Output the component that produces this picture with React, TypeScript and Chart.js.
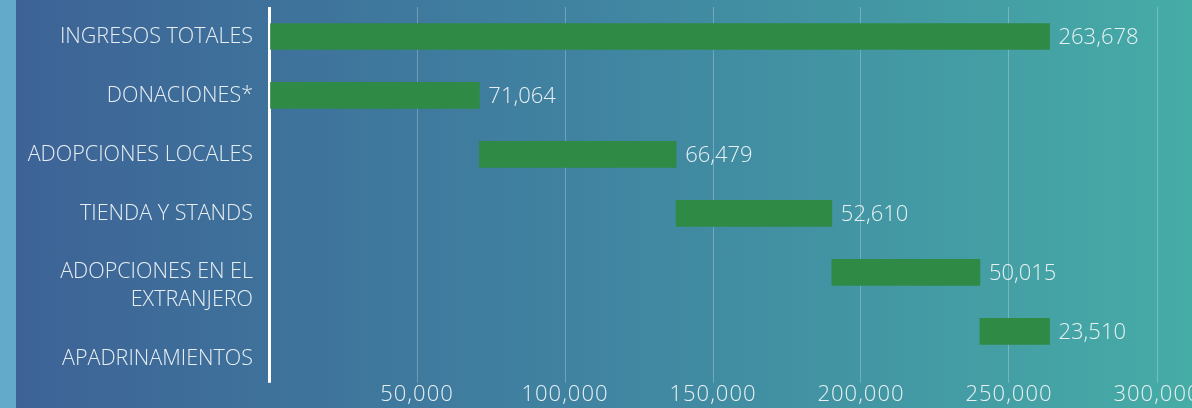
import React, { useEffect, useRef } from "react";
import { Chart, registerables } from "chart.js";

Chart.register(...registerables);

const categories: (string | string[])[] = [
  "INGRESOS TOTALES",
  "DONACIONES*",
  "ADOPCIONES LOCALES",
  "TIENDA Y STANDS",
  ["", "ADOPCIONES EN EL", "EXTRANJERO"],
  ["", "", "APADRINAMIENTOS"],
];
const barStarts = [0, 0, 71064, 137543, 190153, 240168];
const barValues = [263678, 71064, 66479, 52610, 50015, 23510];
const xTickValues = [0, 50000, 100000, 150000, 200000, 250000, 300000];
const xMin = 0;
const xMax = 310000;

const FONT = "'Open Sans', 'DejaVu Sans', sans-serif";
const TEXT = "rgba(240,246,248,0.95)";

const fmt = (v: number) => v.toLocaleString("en-US");

const valueLabels = {
  id: "valueLabels",
  afterDatasetsDraw(chart: any) {
    const { ctx } = chart;
    const meta = chart.getDatasetMeta(0);
    ctx.save();
    ctx.font = `300 22px ${FONT}`;
    ctx.fillStyle = TEXT;
    ctx.textAlign = "left";
    ctx.textBaseline = "middle";
    meta.data.forEach((bar: any, i: number) => {
      const p = bar.getProps(["x", "y"], true);
      ctx.fillText(fmt(barValues[i]), p.x + 9, p.y + 1);
    });
    ctx.restore();
  },
};

export default function App() {
  const ref = useRef<HTMLCanvasElement>(null);
  useEffect(() => {
    if (!ref.current) return;
    const chart = new Chart(ref.current, {
      type: "bar",
      data: {
        labels: categories as any,
        datasets: [
          {
            data: barValues.map((v, i) => [barStarts[i], barStarts[i] + v]) as any,
            backgroundColor: "#2f8a45",
            borderWidth: 0,
            barThickness: 26,
          },
        ],
      },
      options: {
        indexAxis: "y",
        responsive: false,
        animation: false,
        devicePixelRatio: 1,
        layout: { padding: { top: 7, left: 0, right: 1230 - 1186.6, bottom: 1 } },
        plugins: { legend: { display: false }, tooltip: { enabled: false } },
        scales: {
          x: {
            type: "linear",
            min: xMin,
            max: xMax,
            afterBuildTicks: (scale: any) => {
              scale.ticks = xTickValues.map((v) => ({ value: v }));
              if (!scale._lsPatched) {
                scale._lsPatched = true;
                const orig = scale.draw;
                scale.draw = function (area: any) {
                  const c = this.ctx;
                  c.save();
                  c.letterSpacing = "1px";
                  orig.call(this, area);
                  c.restore();
                };
              }
            },
            border: { display: false },
            grid: {
              drawTicks: true,
              tickLength: 22,
              color: (c: any) => (c.tick && c.tick.value === 0 ? "#ffffff" : "rgba(255,255,255,0.25)"),
              tickColor: (c: any) => (c.tick && c.tick.value === 0 ? "#ffffff" : "rgba(255,255,255,0.25)"),
              lineWidth: (c: any) => (c.tick && c.tick.value === 0 ? 3 : 1),
            },
            ticks: {
              padding: 0,
              color: TEXT,
              font: { family: FONT, size: 22, weight: "300", lineHeight: 1.1 },
              maxRotation: 0,
              autoSkip: false,
              callback: (v: any) => (v === 0 ? "" : fmt(Number(v))),
            },
          },
          y: {
            border: { display: false },
            grid: { display: false, drawTicks: false },
            afterFit: (scale: any) => {
              scale.width = 269;
              scale.paddingTop = 0;
              scale.paddingBottom = 0;
            },
            ticks: {
              padding: 16,
              color: TEXT,
              font: { family: FONT, size: 21.5, weight: "300", lineHeight: 1.3 },
              autoSkip: false,
            },
          },
        },
      },
      plugins: [valueLabels],
    });
    return () => chart.destroy();
  }, []);

  return (
    <div
      style={{
        position: "fixed",
        left: 0,
        top: 0,
        width: 1192,
        height: 408,
        overflow: "hidden",
        background:
          "linear-gradient(90deg, #63a9c9 0px, #63a9c9 16px, #3d6396 16px, #4084a1 50%, #46aca6 100%)",
      }}
    >
      <canvas ref={ref} width={1230} height={408} style={{ width: 1230, height: 408, display: "block" }} />
    </div>
  );
}
